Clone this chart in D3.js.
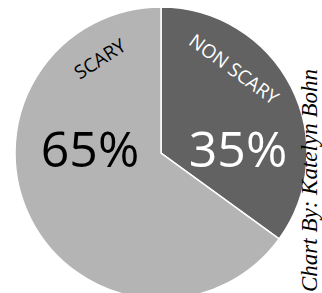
<!DOCTYPE html>
<html>
<head>
<meta charset="utf-8">
<script src="https://cdn.jsdelivr.net/npm/d3@7"></script>
<style>
	body { margin: 0; background: #ffffff; }
	svg { display: block; }
</style>
</head>
<body>
<svg id="chart" width="322" height="293"></svg>
<script>
// data
var categories = ["NON SCARY", "SCARY"];
var values = [35, 65];
var percentLabels = ["35%", "65%"];
var credit = "Chart By: Katelyn Bohn";

var width = 322, height = 293;
var cx = 161, cy = 153, radius = 146;
var colors = ["#626262", "#b4b4b4"];
var pctColors = ["#ffffff", "#000000"];

var svg = d3.select("#chart");
var g = svg.append("g").attr("transform", "translate(" + cx + "," + cy + ")");

// clockwise from 12 o'clock, in data order
var pie = d3.pie().sort(null).value(function(d){ return d; });
var arcs = pie(values);

var arc = d3.arc().innerRadius(0).outerRadius(radius);

g.selectAll("path.slice").data(arcs)
	.enter()
	.append("path")
	.attr("class", "slice")
	.attr("d", arc)
	.attr("fill", function(d, i){ return colors[i]; })
	.attr("stroke", "#ffffff")
	.attr("stroke-width", 1.5)
	.attr("stroke-linejoin", "miter");

// big percentage numbers, centred in each half
var pctX = [77, -71];
g.selectAll("text.pct").data(arcs)
	.enter()
	.append("text")
	.attr("class", "pct")
	.attr("x", function(d, i){ return pctX[i]; })
	.attr("y", 14)
	.attr("text-anchor", "middle")
	.attr("font-family", "'Open Sans', 'Noto Sans', sans-serif")
	.attr("font-size", 50)
	.attr("fill", function(d, i){ return pctColors[i]; })
	.text(function(d, i){ return percentLabels[i]; });

// category names laid along the rim
var nameAngle = [41, -33];  // degrees from 12 o'clock
var nameRadius = [111, 112];
var nameRotate = [36, -33];
g.selectAll("text.name").data(arcs)
	.enter()
	.append("text")
	.attr("class", "name")
	.attr("transform", function(d, i){
		var a = nameAngle[i] * Math.PI / 180;
		var x = nameRadius[i] * Math.sin(a);
		var y = -nameRadius[i] * Math.cos(a);
		return "translate(" + x + "," + y + ") rotate(" + nameRotate[i] + ")";
	})
	.attr("text-anchor", "middle")
	.attr("dy", "0.35em")
	.attr("font-family", "'Open Sans', 'Noto Sans', sans-serif")
	.attr("font-size", 19)
	.attr("fill", function(d, i){ return pctColors[i]; })
	.text(function(d, i){ return categories[i]; });

// credit line up the right edge
svg.append("text")
	.attr("transform", "translate(317,292) rotate(-90)")
	.attr("text-anchor", "start")
	.attr("font-family", "'Liberation Serif', 'DejaVu Serif', serif")
	.attr("font-style", "italic")
	.attr("font-size", 23)
	.attr("fill", "#000000")
	.text(credit);
</script>
</body>
</html>
